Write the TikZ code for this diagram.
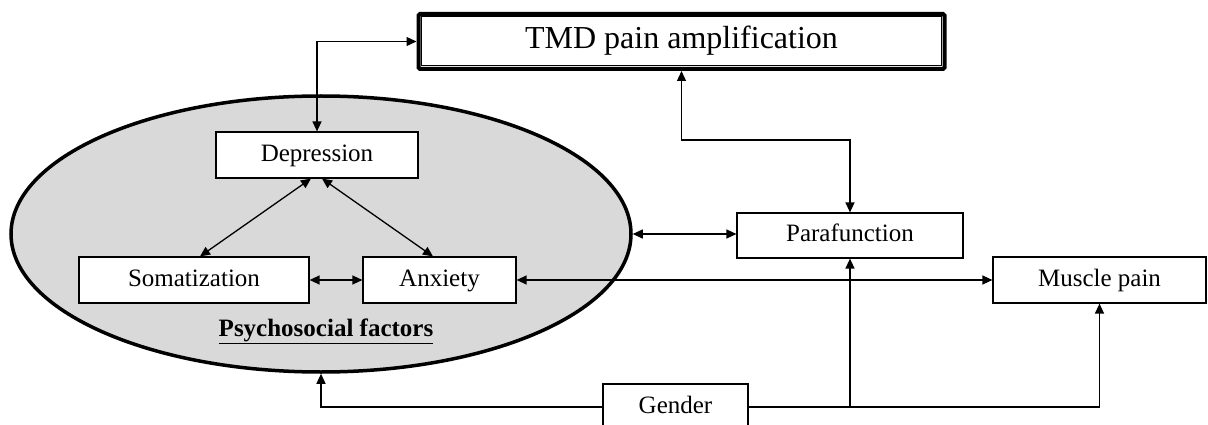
\documentclass[tikz,border=0pt]{standalone}
\usepackage{fontspec}
\setmainfont{Liberation Serif}
\usetikzlibrary{arrows.meta,shapes.geometric}
\definecolor{psyfill}{HTML}{D9D9D9}
\begin{document}
\begin{tikzpicture}[x=1pt,y=-1pt,
  box/.style={draw,line width=1.2pt,fill=white,inner sep=0pt,anchor=center,
    text height=17pt,text depth=5pt,font=\fontsize{25}{30}\selectfont},
  tip/.tip={Triangle[length=10pt,width=9pt]},
  arr/.style={line width=1.3pt,tip-tip},
  arrone/.style={line width=1.3pt,-tip}]
\useasboundingbox (0,0) rectangle (1208,425);
% psychosocial ellipse
\node[ellipse,draw,line width=3.5pt,fill=psyfill,minimum width=620pt,minimum height=276pt,inner sep=0pt] (ell) at (321,234) {};
\node[font=\fontsize{25}{30}\selectfont\bfseries] (psy) at (326,331) {\underline{Psychosocial factors}};
% TMD box
\node[draw,line width=4pt,rounded corners=1.5pt,fill=white,minimum width=526pt,minimum height=55pt,inner sep=0pt,
  text height=22pt,text depth=7pt,font=\fontsize{32}{38}\selectfont] (tmd) at (681.5,41.5) {TMD pain amplification};
\draw[line width=1pt] ([shift={(5pt,-5pt)}]tmd.north west) rectangle ([shift={(-5pt,5pt)}]tmd.south east);
% boxes
\node[box,minimum width=202pt,minimum height=46pt] (dep) at (317,155) {Depression};
\node[box,minimum width=230pt,minimum height=46pt] (som) at (194,280) {Somatization};
\node[box,minimum width=153pt,minimum height=46pt] (anx) at (439.5,280) {Anxiety};
\node[box,minimum width=226pt,minimum height=45pt] (para) at (850,235.5) {Parafunction};
\node[box,minimum width=213pt,minimum height=46pt] (musc) at (1099.5,280) {Muscle pain};
\node[box,minimum width=145pt,minimum height=46pt] (gend) at (675.5,407) {Gender};
% connectors
\draw[arr] (dep.north) |- (tmd.west);
\coordinate (tp) at (682,140);
\draw[arr] (tmd.south) -- (tmd.south |- tp) -| (para.north);
\draw[arr] ([xshift=-6pt]dep.south) -- ([xshift=6pt]som.north);
\draw[arr] ([xshift=5pt]dep.south) -- ([xshift=-6.5pt]anx.north);
\draw[arr] (som.east) -- (anx.west);
\draw[arr] (anx.east) -- (musc.west);
\draw[arr] (ell.east) -- (ell.east -| para.west);
\draw[arrone] (gend.west) -| (ell.south);
\draw[arrone] (gend.east) -| (musc.south);
\draw[arrone] (gend.east -| para.south) -- (para.south);
\end{tikzpicture}
\end{document}
